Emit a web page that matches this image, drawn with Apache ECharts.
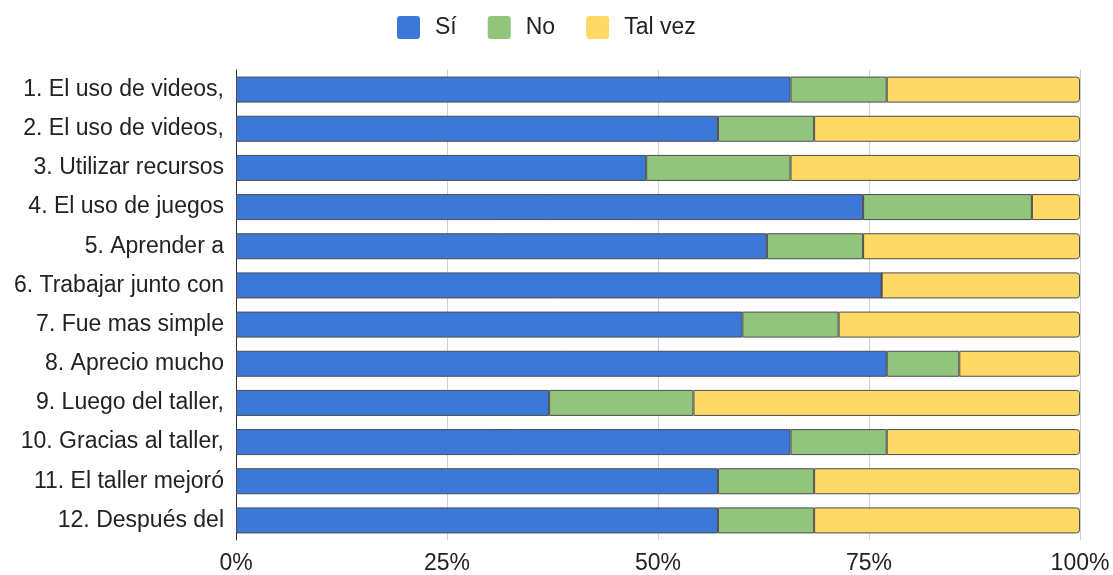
<!DOCTYPE html>
<html>
<head>
<meta charset="utf-8">
<script src="https://cdn.jsdelivr.net/npm/echarts@6/dist/echarts.min.js"></script>
<style>
  html, body { margin: 0; padding: 0; background: #fff; }
  #chart { width: 1113px; height: 575px; }
</style>
</head>
<body>
<div id="chart"></div>
<script>
// Survey statements (top to bottom)
const categories = [
  '1. El uso de videos,',
  '2. El uso de videos,',
  '3. Utilizar recursos',
  '4. El uso de juegos',
  '5. Aprender a',
  '6. Trabajar junto con',
  '7. Fue mas simple',
  '8. Aprecio mucho',
  '9. Luego del taller,',
  '10. Gracias al taller,',
  '11. El taller mejoró',
  '12. Después del'
];

// Share of answers per statement, in percent
const si     = [65.7, 57.1, 48.6, 74.3, 62.9, 76.5, 60.0, 77.1, 37.1, 65.7, 57.1, 57.1];
const no     = [11.4, 11.4, 17.1, 20.0, 11.4,  0.0, 11.4,  8.6, 17.1, 11.4, 11.4, 11.4];
const talVez = [22.9, 31.5, 34.3,  5.7, 25.7, 23.5, 28.6, 14.3, 45.8, 22.9, 31.5, 31.5];

const xTicks = ['0%', '25%', '50%', '75%', '100%'];

const chart = echarts.init(document.getElementById('chart'));
const font = '"Liberation Sans", Arial, sans-serif';
const textColor = '#222';
const border = { borderColor: '#4d4d4d', borderWidth: 1 };
// small-radius square for legend swatches
const swatch = 'path://M3,0H20A3,3,0,0,1,23,3V20A3,3,0,0,1,20,23H3A3,3,0,0,1,0,20V3A3,3,0,0,1,3,0Z';

function bar(name, data, color, radius) {
  return {
    name, type: 'bar', stack: 'total', data,
    barWidth: 26,
    itemStyle: Object.assign({ color, borderRadius: radius }, border),
    emphasis: { disabled: true }
  };
}

chart.setOption({
  animation: false,
  textStyle: { fontFamily: font },
  legend: {
    top: 11, left: 392,
    itemWidth: 23, itemHeight: 23, itemGap: 31,
    icon: swatch,
    itemStyle: { borderWidth: 0 },
    textStyle: { fontSize: 23, color: textColor, fontFamily: font, padding: [0, 0, 0, 10] },
    data: ['Sí', 'No', 'Tal vez']
  },
  grid: { left: 236, right: 33, top: 70, bottom: 34, containLabel: false },
  xAxis: {
    type: 'value', min: 0, max: 100, interval: 25,
    axisLine: { show: false }, axisTick: { show: false },
    splitLine: { lineStyle: { color: '#d0d0d0', width: 1 } },
    axisLabel: {
      fontSize: 23, color: textColor, margin: 12, fontFamily: font,
      formatter: v => xTicks[Math.round(v / 25)]
    }
  },
  yAxis: {
    type: 'category', data: categories, inverse: true,
    axisLine: { show: true, lineStyle: { color: '#333', width: 1 } },
    axisTick: { show: false },
    axisLabel: { fontSize: 23, color: textColor, margin: 12, fontFamily: font }
  },
  series: [
    bar('Sí', si, '#3c78d8', 0),
    bar('No', no, '#93c47d', 0),
    bar('Tal vez', talVez, '#ffd966', [0, 3, 3, 0])
  ]
});
</script>
</body>
</html>
